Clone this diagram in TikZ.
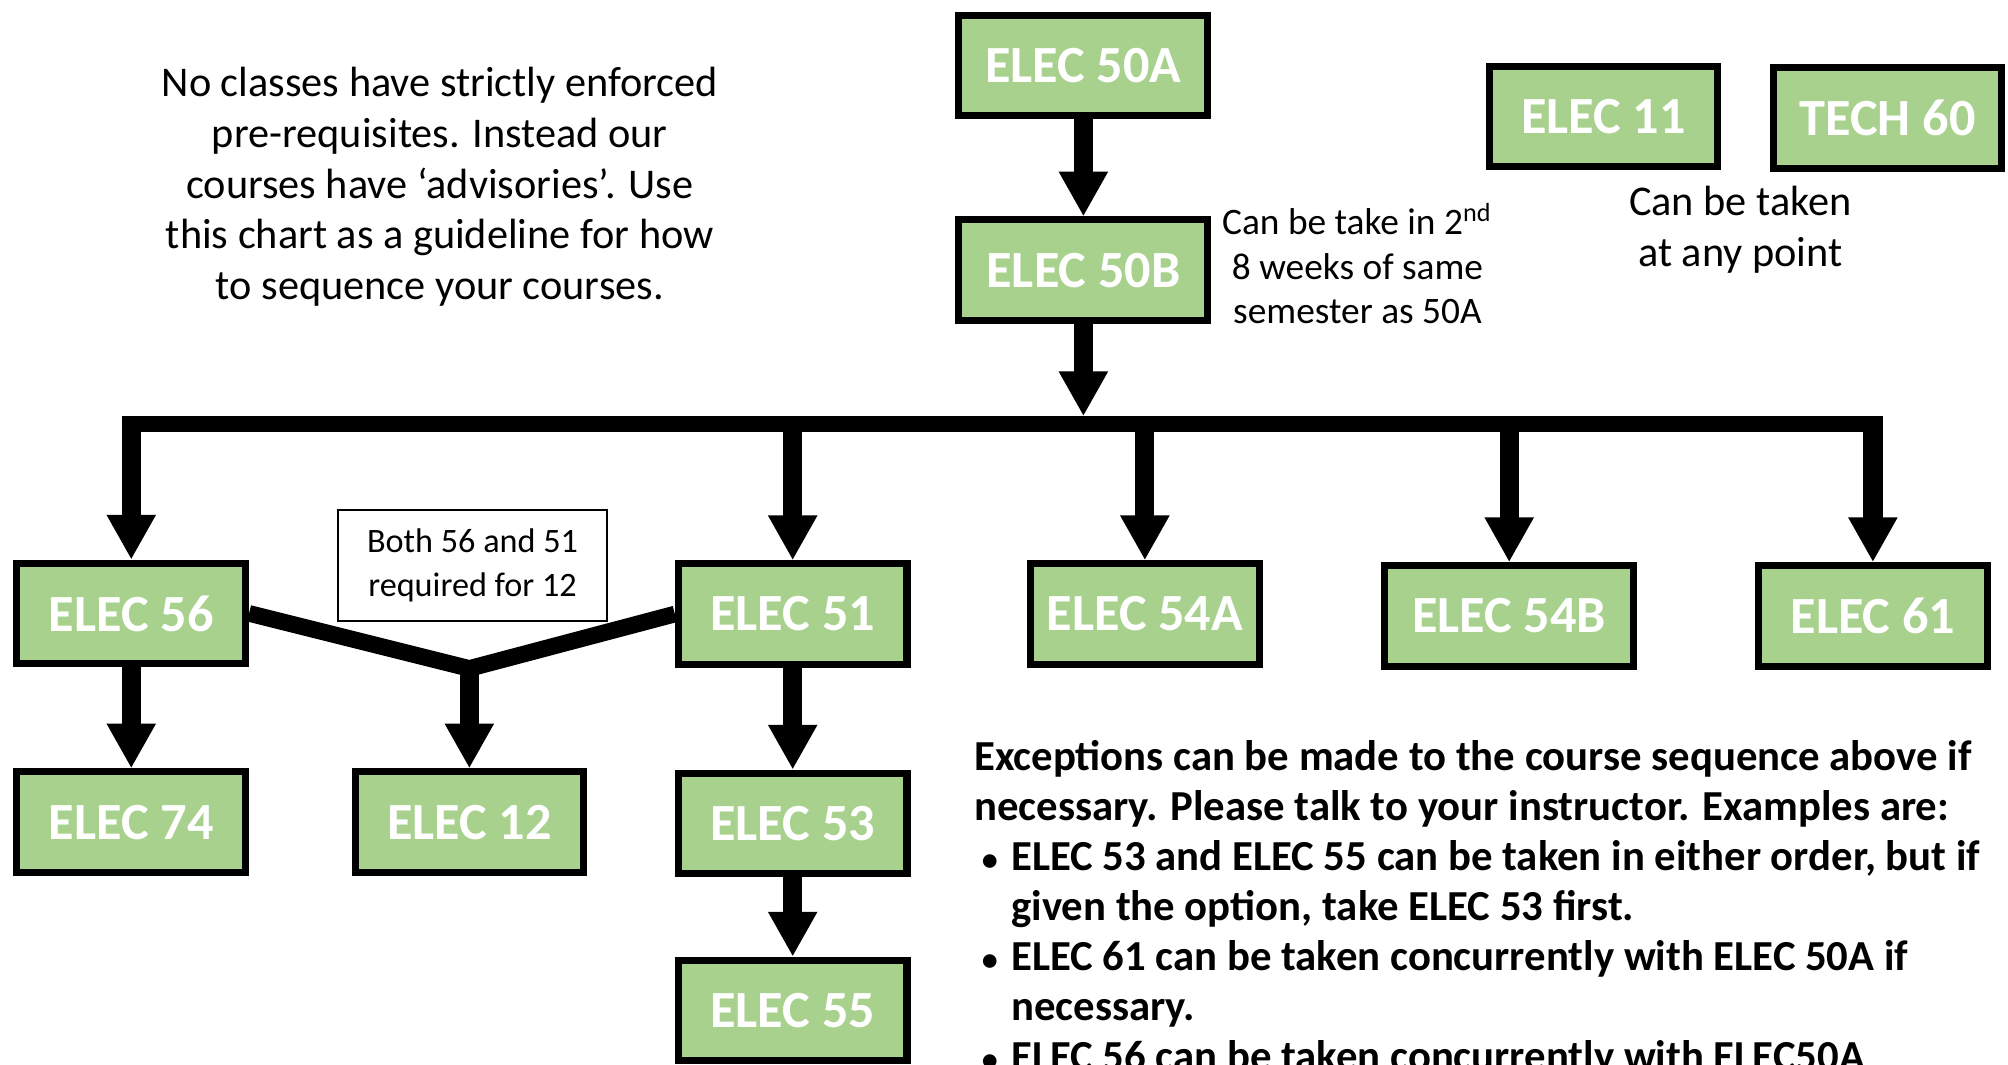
\documentclass[tikz,border=0pt]{standalone}
\usepackage{fontspec}
\setmainfont{Carlito}
\usepackage{tikz}
\usetikzlibrary{arrows.meta}
\definecolor{coursegreen}{HTML}{A9D18E}
\newcommand{\exbul}{\hspace*{0.6mm}\makebox[2.3mm][l]{\scalebox{0.75}{\textbullet}}}
\newcommand{\exind}{\hspace*{2.9mm}}

\begin{document}
\begin{tikzpicture}[x=0.1mm,y=-0.1mm,
  course/.style={draw=black,line width=0.55mm,fill=coursegreen,text=white,
    font=\fontsize{11.6}{13}\selectfont\bfseries,inner sep=0pt,
    minimum width=17.85mm,minimum height=7.85mm},
  wide/.style={course,minimum width=19.45mm},
  arr/.style={line width=1.5mm,-{Triangle[width=3.6mm,length=3.5mm]}},
  bus/.style={line width=1.2mm},
  merge/.style={line width=1.3mm,line join=miter},
  note/.style={align=center,inner sep=0pt}]
  \useasboundingbox (0,0) rectangle (1568,831);

  % top of the chart
  \node[wide] (e50a) at (846,51) {ELEC 50A};
  \node[wide] (e50b) at (846,211) {ELEC 50B};
  \node[course] (e11) at (1252,91) {ELEC 11};
  \node[course] (t60) at (1474,92) {TECH 60};

  % base = last line of each note
  \node[note,font=\fontsize{9.4}{11.27}\selectfont,anchor=base] (advice) at (343.5,234)
    {No classes have strictly enforced\\pre-requisites. Instead our\\courses have ‘advisories’. Use\\this chart as a guideline for how\\to sequence your courses.};
  \node[note,font=\fontsize{8.3}{9.96}\selectfont,anchor=base] (samesem) at (1060,253)
    {Can be take in 2\textsuperscript{nd}\\8 weeks of same\\semester as 50A};
  \node[note,font=\fontsize{9.4}{11.4}\selectfont,anchor=base] (anytime) at (1359,208)
    {Can be taken\\at any point};

  \draw[arr] (e50a) -- (e50b);
  \coordinate (hub) at (846,325);
  \draw[arr] (e50b) -- (hub);
  \draw[bus] (95,331) -- (1470,331);

  % second row
  \node[course] (e56) at (102.5,479) {ELEC 56};
  \node[course] (e51) at (619,479.5) {ELEC 51};
  \node[course] (e54a) at (894,479.5) {ELEC 54A};
  \node[wide] (e54b) at (1178.5,481) {ELEC 54B};
  \node[course] (e61) at (1462.5,481) {ELEC 61};
  \foreach \c in {e56,e51,e54a,e54b,e61}
    \draw[arr] (\c.north |- hub) -- (\c);

  \node[draw,line width=0.4pt,note,minimum width=21mm,minimum height=8.7mm,
    font=\fontsize{7.6}{9.6}\selectfont] (bothreq) at (369,441.5) {Both 56 and 51\\required for 12};

  % third row
  \node[course] (e74) at (102.5,642) {ELEC 74};
  \node[course] (e12) at (366.5,642) {ELEC 12};
  \node[course] (e53) at (619,643) {ELEC 53};
  \node[course] (e55) at (619,789) {ELEC 55};

  \coordinate (join) at (366.5,522);
  \draw[merge] (e56.east) -- (join) -- (e51.west);
  \draw[arr] (join) -- (e12);
  \draw[arr] (e56) -- (e74);
  \draw[arr] (e51) -- (e53);
  \draw[arr] (e53) -- (e55);

  \node[anchor=base west,align=left,inner sep=0pt,
    font=\fontsize{9.5}{11.1}\selectfont\bfseries] (exceptions) at (760,836)
    {Exceptions can be made to the course sequence above if\\
     necessary. Please talk to your instructor. Examples are:\\
     \exbul ELEC 53 and ELEC 55 can be taken in either order, but if\\
     \exind given the option, take ELEC 53 first.\\
     \exbul ELEC 61 can be taken concurrently with ELEC 50A if\\
     \exind necessary.\\
     \exbul ELEC 56 can be taken concurrently with ELEC50A};
\end{tikzpicture}
\end{document}
